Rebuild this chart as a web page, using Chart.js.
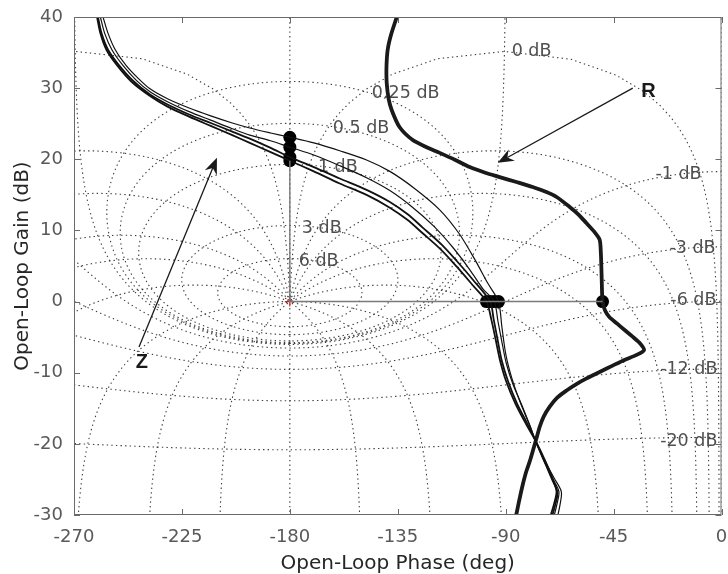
<!DOCTYPE html>
<html><head><meta charset="utf-8">
<script src="https://cdn.jsdelivr.net/npm/chart.js@4.4.1/dist/chart.umd.min.js"></script>
<style>html,body{margin:0;padding:0;background:#fff;}canvas{display:block;}</style>
</head><body>
<canvas id="c" width="728" height="574"></canvas>
<script>
// ---------- axis ticks ----------
const phaseTicks = [-270, -225, -180, -135, -90, -45, 0];
const gainTicks = [-30, -20, -10, 0, 10, 20, 30, 40];

// ---------- Nichols grid definition (closed-loop gain / phase contours) ----------
const closedLoopGainsDb = [6, 3, 1, 0.5, 0.25, 0, -1, -3, -6, -12, -20, -40];
const closedLoopPhasesDeg = [0, -1, -5, -10, -20, -30, -50, -90, -120, -150, -180, -210, -240, -270, -310, -330, -340, -350, -355, -359];
const gridLabelText = ['0 dB', '0.25 dB', '0.5 dB', '1 dB', '3 dB', '6 dB', '-1 dB', '-3 dB', '-6 dB', '-12 dB', '-20 dB'];
const gridLabelPhase = [-87.5, -145.8, -162.1, -168.3, -175, -176.3, -8.3, -2.5, -2.1, -1.7, -1.7];
const gridLabelGain = [35.1, 29.3, 24.4, 18.8, 10.3, 5.6, 17.8, 7.4, 0.1, -9.6, -19.6];

// ---------- open-loop responses (phase deg, gain dB) ----------
const z1Phase = [-260.4,-259,-256.5,-252,-246,-238.3,-231,-222,-213,-204,-196.7,-188,-180,-170,-159.2,-148,-138.3,-131,-124.6,-117,-110.4,-104,-98,-96,-94.2,-92.4,-89.8,-86,-81.2,-77.5,-73.5,-70.4,-68.8,-69.8,-71.2];
const z1Gain  = [40,37.7,35.4,33.2,30.9,28.9,27.4,26.0,24.7,23.4,22.3,21.0,19.8,18.3,16.6,15.0,13.2,11.5,9.6,7.3,4.9,2.4,0,-2.5,-5.3,-8.2,-11.2,-14.3,-17.4,-19.6,-22.4,-24.9,-26.7,-28.4,-30];
const z2Phase = [-260,-258.5,-255.8,-251.2,-245.3,-238.3,-231,-222,-213,-204,-196.7,-188,-180,-170,-159.2,-148,-138.3,-131,-124.6,-117,-110.4,-103.5,-96.5,-95,-93.4,-91.7,-89,-85.3,-80.6,-77.5,-73.9,-70.8,-68.4,-69.2,-70.5];
const z2Gain  = [40,37.7,35.4,33.2,31.0,29.1,27.7,26.3,25.1,23.9,22.9,21.6,20.3,18.9,17.3,15.7,14.0,12.3,10.4,8.1,5.7,3.0,0,-2.5,-5.3,-8.2,-11.2,-14.3,-17.4,-19.6,-22.4,-24.9,-26.8,-28.4,-30];
const z3Phase = [-259,-257.2,-254.2,-249.6,-244,-238.3,-231,-222,-213,-204,-196.7,-188,-180,-170,-159.2,-148,-138.3,-129,-120,-112,-105,-99.5,-94.8,-93.2,-91.5,-89.8,-87,-83.2,-79.8,-77.5,-74.2,-70.5,-67.8,-68.5,-69.7];
const z3Gain  = [40,37.7,35.4,33.2,31.1,29.5,28.1,26.7,25.5,24.3,23.4,22.6,21.7,20.6,19.1,17.4,15.6,13.3,10.6,7.6,4.5,1.8,0,-2.8,-5.8,-8.6,-11.6,-14.6,-17.5,-19.6,-22.3,-24.8,-26.7,-28.3,-30];
const z4Phase = [-257.9,-255.8,-252.8,-248.3,-243,-238.3,-231,-222,-213,-204,-196.7,-188,-180,-170,-159.2,-148,-138.3,-128,-117.5,-109.5,-103,-97.5,-93,-91.6,-89.9,-87.4,-83.9,-80.1,-77.5,-73.8,-69.8,-66.8,-67.2,-68.2];
const z4Gain  = [40,37.7,35.4,33.2,31.3,29.9,28.5,27.2,26.1,25.1,24.4,23.7,23.1,22.3,21.2,19.9,18.3,15.9,12.9,9.6,6.0,2.6,0,-3.5,-7.5,-10.8,-14.2,-17.3,-19.6,-22.3,-24.8,-26.7,-28.3,-30];
const rPhase = [-135.4,-137.8,-139.2,-139.7,-139.6,-138.8,-137.5,-134.2,-128.75,-123,-117.5,-111,-105,-98.5,-92.5,-85.5,-78.75,-73,-68.75,-63.3,-59.5,-56.25,-53,-50.8,-50.3,-50.1,-49.9,-49.6,-48.5,-46.7,-43.5,-40.4,-37.2,-34.2,-32.3,-35.4,-40.5,-45.4,-50.8,-56.25,-60.5,-64.6,-68.5,-71.7,-74.2,-75.8,-77.3,-78.5,-80,-81.6,-83.2,-84.5,-85.6];
const rGain  = [40,37.5,35.4,33,30.7,28.5,26.9,24.5,22.7,21.7,20.9,19.9,18.9,18.1,17.5,16.8,16.1,15.4,14.7,13.3,12.2,11.0,9.8,8.7,6.8,4.9,2.5,0,-1.3,-2.2,-3.1,-4.0,-4.9,-5.8,-6.8,-7.5,-8.2,-9.0,-9.9,-10.8,-11.6,-12.5,-13.5,-14.8,-16.2,-17.6,-19.4,-20.8,-22.5,-24.1,-26.2,-28.2,-30];

// stability-margin points and lines
const marginPhase = [-180, -180, -180, -180, -98, -96.5, -94.8, -93, -49.6];
const marginGain  = [23.1, 21.7, 20.3, 19.8, 0, 0, 0, 0, 0];
const marginLinePhase = [-180, -180, -49.6];
const marginLineGain  = [19.8, 0, 0];
const criticalPhase = [-180];
const criticalGain = [0];

// annotation arrows (data coordinates)
const arrowNotes = [
  {text: 'R', from: [-37, 30.0], to: [-93.3, 19.5], label: [-30.4, 29.6]},
  {text: 'Z', from: [-242.9, -6.4], to: [-210.4, 20.2], label: [-241.7, -8.6]}
];

const pts = (xs, ys) => xs.map((x, i) => ({x, y: ys[i]}));

// ---------- plugins ----------
function wrapPhase(re, im) {
  let p = Math.atan2(im, re) * 180 / Math.PI;
  if (p > 0) p -= 360;
  return p;
}
function strokeData(ctx, xs, ys, arr) {
  ctx.beginPath();
  let pen = false, prev = null;
  for (const p of arr) {
    if (!p || !isFinite(p[1]) || !isFinite(p[0])) { pen = false; prev = null; continue; }
    if (prev && Math.abs(p[0] - prev[0]) > 180) pen = false;
    const X = xs.getPixelForValue(p[0]), Y = ys.getPixelForValue(p[1]);
    if (pen) ctx.lineTo(X, Y); else ctx.moveTo(X, Y);
    pen = true; prev = p;
  }
  ctx.stroke();
}
const nicholsGrid = {
  id: 'nicholsGrid',
  beforeDatasetsDraw(chart) {
    const {ctx, chartArea: a, scales: {x: xs, y: ys}} = chart;
    ctx.save();
    ctx.beginPath(); ctx.rect(a.left, a.top, a.right - a.left, a.bottom - a.top); ctx.clip();
    ctx.strokeStyle = 'rgba(40,40,40,0.9)';
    ctx.lineWidth = 1.1;
    ctx.setLineDash([1.4, 3.2]);
    // closed-loop gain contours
    for (const gdb of closedLoopGainsDb) {
      const arr = [];
      if (gdb === 0) {
        for (let s = -9; s <= 9; s += 0.01) {
          const re = -0.5, im = Math.sinh(s);
          arr.push([wrapPhase(re, im), 20 * Math.log10(Math.hypot(re, im))]);
        }
      } else {
        const M = Math.pow(10, gdb / 20), M2 = M * M;
        const c = -M2 / (M2 - 1), r = Math.abs(M / (M2 - 1));
        for (let k = 0; k <= 2880; k++) {
          const t = k / 2880 * 2 * Math.PI;
          const re = c + r * Math.cos(t), im = r * Math.sin(t);
          arr.push([wrapPhase(re, im), 20 * Math.log10(Math.hypot(re, im))]);
        }
      }
      strokeData(ctx, xs, ys, arr);
    }
    // closed-loop phase contours
    for (const th of closedLoopPhasesDeg) {
      const arr = [];
      const cr = Math.cos(th * Math.PI / 180), ci = Math.sin(th * Math.PI / 180);
      for (let e = -4; e <= 4; e += 0.004) {
        const m = Math.pow(10, e);
        const tr = m * cr, ti = m * ci;
        const dr = 1 - tr, di = -ti;
        const den = dr * dr + di * di;
        const gr = (tr * dr + ti * di) / den, gi = (ti * dr - tr * di) / den;
        arr.push([wrapPhase(gr, gi), 20 * Math.log10(Math.hypot(gr, gi))]);
      }
      strokeData(ctx, xs, ys, arr);
    }
    ctx.restore();
    // contour labels
    ctx.save();
    ctx.font = '17.5px "DejaVu Sans"';
    ctx.fillStyle = '#4f4f4f';
    ctx.textBaseline = 'middle';
    gridLabelText.forEach((t, i) => {
      ctx.textAlign = t.startsWith('-') ? 'right' : 'left';
      ctx.fillText(t, xs.getPixelForValue(gridLabelPhase[i]), ys.getPixelForValue(gridLabelGain[i]));
    });
    ctx.restore();
  }
};
const frameAndNotes = {
  id: 'frameAndNotes',
  afterDatasetsDraw(chart) {
    const {ctx, chartArea: a, scales: {x: xs, y: ys}} = chart;
    ctx.save();
    // arrows
    ctx.strokeStyle = '#1a1a1a'; ctx.fillStyle = '#1a1a1a'; ctx.lineWidth = 1.3;
    for (const n of arrowNotes) {
      const x0 = xs.getPixelForValue(n.from[0]), y0 = ys.getPixelForValue(n.from[1]);
      const x1 = xs.getPixelForValue(n.to[0]), y1 = ys.getPixelForValue(n.to[1]);
      const ang = Math.atan2(y1 - y0, x1 - x0);
      const L = 16, W = 6.5, back = 11;
      const bx = x1 - back * Math.cos(ang), by = y1 - back * Math.sin(ang);
      ctx.beginPath(); ctx.moveTo(x0, y0); ctx.lineTo(bx, by); ctx.stroke();
      const px = -Math.sin(ang), py = Math.cos(ang);
      const cx = x1 - L * Math.cos(ang), cy = y1 - L * Math.sin(ang);
      ctx.beginPath();
      ctx.moveTo(x1, y1);
      ctx.lineTo(cx + W * px, cy + W * py);
      ctx.lineTo(bx, by);
      ctx.lineTo(cx - W * px, cy - W * py);
      ctx.closePath(); ctx.fill();
      ctx.font = 'bold 20px "Liberation Sans", Arial, sans-serif';
      ctx.textAlign = 'center'; ctx.textBaseline = 'middle';
      ctx.fillText(n.text, xs.getPixelForValue(n.label[0]), ys.getPixelForValue(n.label[1]));
    }
    // frame + inward ticks
    ctx.strokeStyle = '#6a6a6a'; ctx.lineWidth = 1;
    ctx.strokeRect(a.left + 0.5, a.top + 0.5, a.right - a.left - 1, a.bottom - a.top - 1);
    ctx.beginPath();
    for (const v of phaseTicks) {
      const X = Math.round(xs.getPixelForValue(v)) + 0.5;
      ctx.moveTo(X, a.bottom); ctx.lineTo(X, a.bottom - 6);
      ctx.moveTo(X, a.top); ctx.lineTo(X, a.top + 6);
    }
    for (const v of gainTicks) {
      const Y = Math.round(ys.getPixelForValue(v)) + 0.5;
      ctx.moveTo(a.left, Y); ctx.lineTo(a.left + 6, Y);
      ctx.moveTo(a.right, Y); ctx.lineTo(a.right - 6, Y);
    }
    ctx.stroke();
    ctx.restore();
  }
};

const lineColor = '#111';
const curve = (xs, ys, w) => ({data: pts(xs, ys), showLine: true, borderColor: lineColor, borderWidth: w, pointRadius: 0, tension: 0.3, fill: false});

new Chart(document.getElementById('c'), {
  type: 'scatter',
  data: {
    datasets: [
      {data: pts(marginLinePhase, marginLineGain), showLine: true, borderColor: '#7a7a7a', borderWidth: 1.4, pointRadius: 0, tension: 0},
      curve(z1Phase, z1Gain, 1.8),
      curve(z2Phase, z2Gain, 1.8),
      curve(z3Phase, z3Gain, 1.2),
      curve(z4Phase, z4Gain, 1.2),
      Object.assign(curve(rPhase, rGain, 3.8), {tension: 0.25, borderColor: '#1a1a1a'}),
      {data: pts(marginPhase, marginGain), showLine: false, pointRadius: 6.5, pointBackgroundColor: '#000', pointBorderColor: '#000', pointBorderWidth: 0},
      {data: pts(criticalPhase, criticalGain), showLine: false, pointStyle: 'cross', pointRadius: 5, pointBorderColor: '#e02020', pointBorderWidth: 1.2}
    ]
  },
  options: {
    responsive: false,
    animation: false,
    layout: {padding: {left: 0, right: 6, top: 17, bottom: 0}},
    plugins: {legend: {display: false}, tooltip: {enabled: false}},
    scales: {
      x: {
        type: 'linear', min: -270, max: 0,
        afterBuildTicks: s => { s.ticks = phaseTicks.map(v => ({value: v})); },
        afterFit: s => { s.height = 59; s.paddingLeft = 0; s.paddingRight = 0; },
        grid: {display: false, drawTicks: false},
        border: {display: false},
        ticks: {color: '#595959', font: {family: 'DejaVu Sans', size: 18}, padding: 12, maxRotation: 0},
        title: {display: true, text: 'Open-Loop Phase (deg)', color: '#262626', font: {family: 'DejaVu Sans', size: 20, lineHeight: 1}, padding: {top: 0, bottom: 0}}
      },
      y: {
        type: 'linear', min: -30, max: 40,
        afterBuildTicks: s => { s.ticks = gainTicks.map(v => ({value: v})); },
        afterFit: s => { s.width = 74; s.paddingTop = 0; s.paddingBottom = 0; },
        grid: {display: false, drawTicks: false},
        border: {display: false},
        ticks: {color: '#595959', font: {family: 'DejaVu Sans', size: 18}, padding: 11},
        title: {display: true, text: 'Open-Loop Gain (dB)', color: '#262626', font: {family: 'DejaVu Sans', size: 20}, padding: {top: 11, bottom: 0}}
      }
    }
  },
  plugins: [nicholsGrid, frameAndNotes]
});
</script>
</body></html>
